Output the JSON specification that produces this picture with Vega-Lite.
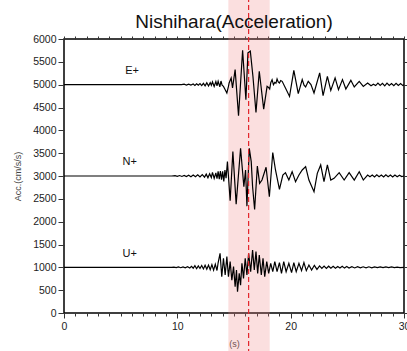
{
  "$schema": "https://vega.github.io/schema/vega-lite/v6.json",
  "width": 340,
  "height": 274,
  "autosize": {"type": "none"},
  "padding": {"left": 64, "top": 39, "right": 3, "bottom": 38},
  "title": {"text": "Nishihara(Acceleration)", "fontSize": 19, "font": "Liberation Sans", "fontWeight": "normal", "color": "#111", "anchor": "middle", "offset": -35},
  "config": {
    "view": {"stroke": "black", "strokeWidth": 1.5},
    "axis": {"grid": false, "labelFont": "Liberation Sans", "titleFont": "Liberation Sans", "labelColor": "#222", "titleColor": "#444", "tickColor": "#333", "labelFontSize": 10.5, "titleFontWeight": "normal", "domain": false}
  },
  "datasets": {
    "band": [{"start": 14.5, "end": 18.15, "low": -900, "high": 6900}],
    "marker": [{"t": 16.29, "low": -900, "high": 6900}],
    "labels": [{"t": 6.0, "v": 5300, "name": "E+"}, {"t": 5.8, "v": 3300, "name": "N+"}, {"t": 5.8, "v": 1300, "name": "U+"}],
    "traces": [
      {"ch":"E","t":0,"v":5000},{"ch":"E","t":10.37,"v":5000},{"ch":"E","t":10.6,"v":5010},{"ch":"E","t":10.8,"v":4992},{"ch":"E","t":11.0,"v":5012},{"ch":"E","t":11.2,"v":4990},{"ch":"E","t":11.4,"v":5015},{"ch":"E","t":11.55,"v":4985},{"ch":"E","t":11.7,"v":5020},{"ch":"E","t":11.85,"v":4988},{"ch":"E","t":12.0,"v":5025},{"ch":"E","t":12.15,"v":4980},{"ch":"E","t":12.3,"v":5030},{"ch":"E","t":12.45,"v":4975},{"ch":"E","t":12.6,"v":5040},{"ch":"E","t":12.75,"v":4970},{"ch":"E","t":12.9,"v":5045},{"ch":"E","t":13.0,"v":4985},{"ch":"E","t":13.1,"v":5060},{"ch":"E","t":13.25,"v":4960},{"ch":"E","t":13.4,"v":5070},{"ch":"E","t":13.5,"v":4975},{"ch":"E","t":13.6,"v":5075},{"ch":"E","t":13.75,"v":4950},{"ch":"E","t":13.85,"v":5080},{"ch":"E","t":13.95,"v":4990},{"ch":"E","t":14.07,"v":4963},{"ch":"E","t":14.2,"v":4900},{"ch":"E","t":14.37,"v":4817},{"ch":"E","t":14.5,"v":4950},{"ch":"E","t":14.57,"v":5037},{"ch":"E","t":14.75,"v":5147},{"ch":"E","t":14.87,"v":4927},{"ch":"E","t":15.1,"v":5330},{"ch":"E","t":15.4,"v":4318},{"ch":"E","t":15.76,"v":5755},{"ch":"E","t":16.05,"v":4670},{"ch":"E","t":16.23,"v":5696},{"ch":"E","t":16.44,"v":5733},{"ch":"E","t":16.67,"v":5183},{"ch":"E","t":16.94,"v":4392},{"ch":"E","t":17.23,"v":5293},{"ch":"E","t":17.62,"v":4465},{"ch":"E","t":17.92,"v":4963},{"ch":"E","t":18.05,"v":4940},{"ch":"E","t":18.15,"v":4905},{"ch":"E","t":18.25,"v":5050},{"ch":"E","t":18.36,"v":5110},{"ch":"E","t":18.48,"v":5000},{"ch":"E","t":18.6,"v":5051},{"ch":"E","t":18.7,"v":5030},{"ch":"E","t":18.8,"v":5125},{"ch":"E","t":18.9,"v":5060},{"ch":"E","t":19.01,"v":5037},{"ch":"E","t":19.12,"v":5090},{"ch":"E","t":19.25,"v":5073},{"ch":"E","t":19.54,"v":4927},{"ch":"E","t":19.9,"v":4743},{"ch":"E","t":20.28,"v":5315},{"ch":"E","t":20.67,"v":4802},{"ch":"E","t":21.02,"v":5110},{"ch":"E","t":21.18,"v":4990},{"ch":"E","t":21.32,"v":4949},{"ch":"E","t":21.55,"v":5073},{"ch":"E","t":21.79,"v":5000},{"ch":"E","t":22.06,"v":4817},{"ch":"E","t":22.56,"v":5257},{"ch":"E","t":22.86,"v":4758},{"ch":"E","t":23.24,"v":5183},{"ch":"E","t":23.54,"v":4875},{"ch":"E","t":23.92,"v":5147},{"ch":"E","t":24.22,"v":4890},{"ch":"E","t":24.57,"v":5110},{"ch":"E","t":24.87,"v":4905},{"ch":"E","t":25.31,"v":5095},{"ch":"E","t":25.61,"v":4949},{"ch":"E","t":26.05,"v":5073},{"ch":"E","t":26.41,"v":4963},{"ch":"E","t":26.79,"v":5037},{"ch":"E","t":27.09,"v":4975},{"ch":"E","t":27.3,"v":5010},{"ch":"E","t":27.5,"v":4980},{"ch":"E","t":27.7,"v":5035},{"ch":"E","t":27.9,"v":4985},{"ch":"E","t":28.1,"v":5030},{"ch":"E","t":28.3,"v":4975},{"ch":"E","t":28.5,"v":5035},{"ch":"E","t":28.7,"v":4985},{"ch":"E","t":28.9,"v":5025},{"ch":"E","t":29.1,"v":4980},{"ch":"E","t":29.3,"v":5030},{"ch":"E","t":29.5,"v":4985},{"ch":"E","t":29.7,"v":5025},{"ch":"E","t":29.9,"v":4980},{"ch":"E","t":30.0,"v":5000},
      {"ch":"N","t":0,"v":3000},{"ch":"N","t":9.5,"v":3000},{"ch":"N","t":9.8,"v":3008},{"ch":"N","t":10.0,"v":2994},{"ch":"N","t":10.2,"v":3010},{"ch":"N","t":10.4,"v":2990},{"ch":"N","t":10.6,"v":3012},{"ch":"N","t":10.8,"v":2988},{"ch":"N","t":11.0,"v":3015},{"ch":"N","t":11.2,"v":2985},{"ch":"N","t":11.4,"v":3020},{"ch":"N","t":11.6,"v":2982},{"ch":"N","t":11.8,"v":3025},{"ch":"N","t":12.0,"v":2978},{"ch":"N","t":12.2,"v":3030},{"ch":"N","t":12.4,"v":2975},{"ch":"N","t":12.55,"v":3040},{"ch":"N","t":12.7,"v":2960},{"ch":"N","t":12.85,"v":3050},{"ch":"N","t":13.0,"v":2965},{"ch":"N","t":13.1,"v":3080},{"ch":"N","t":13.25,"v":2950},{"ch":"N","t":13.4,"v":3070},{"ch":"N","t":13.5,"v":2940},{"ch":"N","t":13.6,"v":3100},{"ch":"N","t":13.7,"v":2930},{"ch":"N","t":13.8,"v":3110},{"ch":"N","t":13.9,"v":2920},{"ch":"N","t":14.0,"v":3100},{"ch":"N","t":14.1,"v":2880},{"ch":"N","t":14.2,"v":3130},{"ch":"N","t":14.3,"v":2950},{"ch":"N","t":14.42,"v":3315},{"ch":"N","t":14.66,"v":2458},{"ch":"N","t":14.9,"v":3535},{"ch":"N","t":15.19,"v":2384},{"ch":"N","t":15.58,"v":3608},{"ch":"N","t":15.87,"v":2765},{"ch":"N","t":16.02,"v":3132},{"ch":"N","t":16.14,"v":2340},{"ch":"N","t":16.35,"v":3608},{"ch":"N","t":16.52,"v":3315},{"ch":"N","t":16.64,"v":2765},{"ch":"N","t":16.82,"v":2267},{"ch":"N","t":17.06,"v":3220},{"ch":"N","t":17.26,"v":2839},{"ch":"N","t":17.47,"v":2912},{"ch":"N","t":17.83,"v":3191},{"ch":"N","t":18.12,"v":2545},{"ch":"N","t":18.42,"v":3513},{"ch":"N","t":18.66,"v":3132},{"ch":"N","t":19.01,"v":2707},{"ch":"N","t":19.31,"v":3022},{"ch":"N","t":19.54,"v":3073},{"ch":"N","t":19.84,"v":2912},{"ch":"N","t":20.13,"v":3095},{"ch":"N","t":20.43,"v":2875},{"ch":"N","t":20.73,"v":3022},{"ch":"N","t":21.02,"v":3132},{"ch":"N","t":21.32,"v":3205},{"ch":"N","t":21.61,"v":2912},{"ch":"N","t":22.06,"v":2655},{"ch":"N","t":22.35,"v":3059},{"ch":"N","t":22.65,"v":3242},{"ch":"N","t":22.94,"v":2875},{"ch":"N","t":23.24,"v":3242},{"ch":"N","t":23.54,"v":2912},{"ch":"N","t":23.83,"v":2949},{"ch":"N","t":24.28,"v":3073},{"ch":"N","t":24.72,"v":2912},{"ch":"N","t":25.16,"v":3073},{"ch":"N","t":25.61,"v":2912},{"ch":"N","t":26.05,"v":3095},{"ch":"N","t":26.41,"v":2912},{"ch":"N","t":26.79,"v":3022},{"ch":"N","t":27.0,"v":2985},{"ch":"N","t":27.2,"v":3020},{"ch":"N","t":27.4,"v":2980},{"ch":"N","t":27.6,"v":3025},{"ch":"N","t":27.8,"v":2985},{"ch":"N","t":28.0,"v":3020},{"ch":"N","t":28.2,"v":2978},{"ch":"N","t":28.4,"v":3025},{"ch":"N","t":28.6,"v":2985},{"ch":"N","t":28.8,"v":3020},{"ch":"N","t":29.0,"v":2980},{"ch":"N","t":29.2,"v":3022},{"ch":"N","t":29.4,"v":2985},{"ch":"N","t":29.6,"v":3018},{"ch":"N","t":29.8,"v":2988},{"ch":"N","t":30.0,"v":3000},
      {"ch":"U","t":0,"v":1000},{"ch":"U","t":9.5,"v":1000},{"ch":"U","t":9.7,"v":1006},{"ch":"U","t":9.9,"v":995},{"ch":"U","t":10.1,"v":1008},{"ch":"U","t":10.3,"v":992},{"ch":"U","t":10.5,"v":1010},{"ch":"U","t":10.7,"v":990},{"ch":"U","t":10.9,"v":1012},{"ch":"U","t":11.1,"v":985},{"ch":"U","t":11.25,"v":1020},{"ch":"U","t":11.4,"v":980},{"ch":"U","t":11.55,"v":1035},{"ch":"U","t":11.7,"v":970},{"ch":"U","t":11.85,"v":1030},{"ch":"U","t":12.0,"v":975},{"ch":"U","t":12.15,"v":1040},{"ch":"U","t":12.3,"v":965},{"ch":"U","t":12.45,"v":1045},{"ch":"U","t":12.6,"v":960},{"ch":"U","t":12.75,"v":1050},{"ch":"U","t":12.9,"v":950},{"ch":"U","t":13.05,"v":1060},{"ch":"U","t":13.2,"v":940},{"ch":"U","t":13.35,"v":1070},{"ch":"U","t":13.5,"v":930},{"ch":"U","t":13.6,"v":1100},{"ch":"U","t":13.77,"v":1308},{"ch":"U","t":13.92,"v":795},{"ch":"U","t":14.07,"v":1198},{"ch":"U","t":14.22,"v":831},{"ch":"U","t":14.37,"v":1235},{"ch":"U","t":14.51,"v":795},{"ch":"U","t":14.66,"v":1125},{"ch":"U","t":14.81,"v":721},{"ch":"U","t":14.96,"v":1015},{"ch":"U","t":15.1,"v":575},{"ch":"U","t":15.22,"v":941},{"ch":"U","t":15.31,"v":465},{"ch":"U","t":15.46,"v":868},{"ch":"U","t":15.58,"v":611},{"ch":"U","t":15.7,"v":1088},{"ch":"U","t":15.84,"v":758},{"ch":"U","t":15.99,"v":1198},{"ch":"U","t":16.14,"v":831},{"ch":"U","t":16.29,"v":1308},{"ch":"U","t":16.47,"v":905},{"ch":"U","t":16.64,"v":1381},{"ch":"U","t":16.79,"v":941},{"ch":"U","t":16.94,"v":1345},{"ch":"U","t":17.09,"v":868},{"ch":"U","t":17.23,"v":1271},{"ch":"U","t":17.41,"v":831},{"ch":"U","t":17.56,"v":1198},{"ch":"U","t":17.71,"v":795},{"ch":"U","t":17.89,"v":1125},{"ch":"U","t":18.06,"v":868},{"ch":"U","t":18.24,"v":1088},{"ch":"U","t":18.42,"v":905},{"ch":"U","t":18.6,"v":1125},{"ch":"U","t":18.8,"v":905},{"ch":"U","t":19.01,"v":1103},{"ch":"U","t":19.19,"v":868},{"ch":"U","t":19.39,"v":1125},{"ch":"U","t":19.6,"v":905},{"ch":"U","t":19.84,"v":1088},{"ch":"U","t":20.08,"v":883},{"ch":"U","t":20.28,"v":1103},{"ch":"U","t":20.49,"v":905},{"ch":"U","t":20.73,"v":1088},{"ch":"U","t":20.96,"v":927},{"ch":"U","t":21.17,"v":1103},{"ch":"U","t":21.38,"v":927},{"ch":"U","t":21.61,"v":1051},{"ch":"U","t":21.85,"v":941},{"ch":"U","t":22.09,"v":1044},{"ch":"U","t":22.32,"v":956},{"ch":"U","t":22.55,"v":1030},{"ch":"U","t":22.75,"v":975},{"ch":"U","t":22.95,"v":1028},{"ch":"U","t":23.15,"v":978},{"ch":"U","t":23.35,"v":1025},{"ch":"U","t":23.55,"v":980},{"ch":"U","t":23.75,"v":1022},{"ch":"U","t":23.95,"v":982},{"ch":"U","t":24.15,"v":1020},{"ch":"U","t":24.35,"v":985},{"ch":"U","t":24.55,"v":1022},{"ch":"U","t":24.75,"v":983},{"ch":"U","t":24.95,"v":1018},{"ch":"U","t":25.15,"v":985},{"ch":"U","t":25.4,"v":1015},{"ch":"U","t":25.65,"v":987},{"ch":"U","t":25.9,"v":1015},{"ch":"U","t":26.15,"v":988},{"ch":"U","t":26.4,"v":1012},{"ch":"U","t":26.65,"v":990},{"ch":"U","t":26.9,"v":1012},{"ch":"U","t":27.15,"v":990},{"ch":"U","t":27.4,"v":1010},{"ch":"U","t":27.65,"v":992},{"ch":"U","t":27.9,"v":1010},{"ch":"U","t":28.15,"v":992},{"ch":"U","t":28.4,"v":1008},{"ch":"U","t":28.65,"v":994},{"ch":"U","t":28.9,"v":1008},{"ch":"U","t":29.15,"v":994},{"ch":"U","t":29.4,"v":1006},{"ch":"U","t":29.65,"v":995},{"ch":"U","t":30.0,"v":1000}
    ]
  },
  "layer": [
    {
      "data": {"name": "band"},
      "mark": {"type": "rect", "fill": "#f08080", "opacity": 0.25, "clip": false},
      "encoding": {
        "x": {"field": "start", "type": "quantitative", "scale": {"domain": [0, 30], "nice": false, "zero": false}, "axis": null},
        "x2": {"field": "end"},
        "y": {"field": "low", "type": "quantitative", "scale": {"domain": [0, 6000], "nice": false}, "axis": null},
        "y2": {"field": "high"}
      }
    },
    {
      "data": {"name": "traces"},
      "mark": {"type": "line", "color": "black", "strokeWidth": 1.2},
      "encoding": {
        "x": {"field": "t", "type": "quantitative",
          "axis": {"orient": "bottom", "values": [0,1,2,3,4,5,6,7,8,9,10,11,12,13,14,15,16,17,18,19,20,21,22,23,24,25,26,27,28,29,30],
            "labelExpr": "datum.value % 10 === 0 ? datum.label : ''", "labelFlush": false, "labelOverlap": false,
            "tickSize": {"condition": {"test": "datum.value % 10 === 0", "value": 5}, "value": 3},
            "title": "(s)", "titleFontSize": 9, "titlePadding": 8, "labelPadding": 3}},
        "y": {"field": "v", "type": "quantitative",
          "axis": {"orient": "left", "values": [0,500,1000,1500,2000,2500,3000,3500,4000,4500,5000,5500,6000], "format": "d",
            "tickSize": 6, "title": "Acc.(cm/s/s)", "titleFontSize": 9, "titlePadding": 10, "labelPadding": 2}},
        "detail": {"field": "ch", "type": "nominal"},
        "order": {"field": "t", "type": "quantitative"}
      }
    },
    {
      "data": {"name": "marker"},
      "mark": {"type": "rule", "color": "#e3242b", "strokeWidth": 1.2, "strokeDash": [5, 3], "clip": false},
      "encoding": {
        "x": {"field": "t", "type": "quantitative", "axis": null},
        "y": {"field": "low", "type": "quantitative", "axis": null},
        "y2": {"field": "high"}
      }
    },
    {
      "data": {"name": "labels"},
      "mark": {"type": "text", "font": "Liberation Sans", "fontSize": 11, "color": "#111"},
      "encoding": {
        "x": {"field": "t", "type": "quantitative",
          "axis": {"orient": "top", "values": [0,1,2,3,4,5,6,7,8,9,10,11,12,13,14,15,16,17,18,19,20,21,22,23,24,25,26,27,28,29,30], "labels": false, "tickSize": 3, "title": null}},
        "y": {"field": "v", "type": "quantitative",
          "axis": {"orient": "right", "values": [0,500,1000,1500,2000,2500,3000,3500,4000,4500,5000,5500,6000], "labels": false, "tickSize": 3, "title": null}},
        "text": {"field": "name", "type": "nominal"}
      }
    }
  ],
  "resolve": {"axis": {"x": "independent", "y": "independent"}}
}
